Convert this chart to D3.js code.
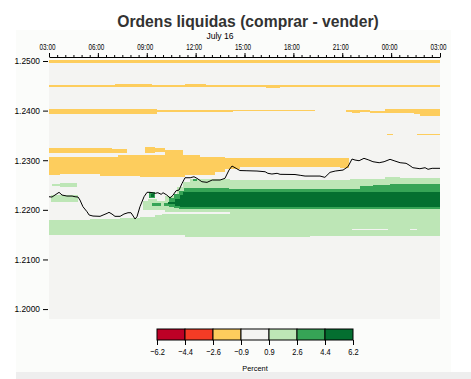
<!DOCTYPE html>
<html><head><meta charset="utf-8">
<script src="https://cdn.jsdelivr.net/npm/d3@7"></script>
<style>
html,body{margin:0;padding:0;background:#fff;}
svg{display:block;font-family:"Liberation Sans",Arial,Helvetica,sans-serif;}
</style></head><body>
<svg id="chart" width="471" height="379"></svg>
<script>
// ---------- texts & legend ----------
const chartTitle = "Ordens liquidas (comprar - vender)";
const dateLabel = "July 16";
const legendTitle = "Percent";
const legendBreaks = [-6.2, -4.4, -2.6, -0.9, 0.9, 2.6, 4.4, 6.2];
const levelColors = ["#bd0026", "#f43c25", "#fdcd5d", "#f4f4f2", "#bde6b6", "#36a456", "#046f30"];
const priceTicks = [1.20, 1.21, 1.22, 1.23, 1.24, 1.25];
const priceDomain = [1.1980, 1.2502];
const startTime = new Date(2021, 6, 16, 3, 0);
const endTime = new Date(2021, 6, 17, 3, 0);

// ---------- price line (hours after 03:00, price) ----------
const lineHours = [0,0.18,0.61,0.80,1.10,1.41,1.60,1.78,1.90,2.09,2.33,2.46,2.70,3.13,3.31,3.56,3.68,3.87,4.05,4.36,4.60,4.85,5.03,5.16,5.28,5.40,5.59,5.83,6.02,6.20,6.51,6.69,6.88,7.00,7.24,7.43,7.61,7.80,7.98,8.16,8.35,8.66,8.90,9.09,9.39,9.70,10.01,10.50,10.80,11.05,11.23,11.48,11.72,12.15,12.77,13.26,13.44,13.69,14.00,14.18,15.10,15.41,15.72,16.64,16.94,17.25,17.56,18.05,18.35,18.60,18.78,19.03,19.34,19.64,19.89,20.26,20.56,20.93,21.24,21.55,21.92,22.10,22.34,22.77,23.08,23.27,23.51,24.00];
const linePrices = [1.22264,1.22258,1.22353,1.22298,1.22278,1.22278,1.22264,1.22258,1.22198,1.22063,1.21962,1.21895,1.21875,1.21869,1.21895,1.21929,1.21950,1.21915,1.21869,1.21869,1.21915,1.21942,1.21942,1.21875,1.21815,1.21861,1.22063,1.22264,1.22353,1.22353,1.22333,1.22345,1.22313,1.22345,1.22298,1.22238,1.22298,1.22385,1.22399,1.22534,1.22647,1.22647,1.22667,1.22635,1.22567,1.22554,1.22601,1.22601,1.22635,1.22802,1.22883,1.22837,1.22792,1.22788,1.22782,1.22768,1.22736,1.22722,1.22736,1.22716,1.22712,1.22696,1.22681,1.22681,1.22655,1.22756,1.22782,1.22802,1.22869,1.23024,1.23004,1.22990,1.23038,1.23004,1.22970,1.22950,1.22970,1.23018,1.22984,1.22950,1.22938,1.22903,1.22849,1.22829,1.22849,1.22817,1.22837,1.22837];

// ---------- heat-map bands: [hour, low price, high price] (step after) ----------
const yellowTop = [[0,1.2496,1.2502],[24,1.2496,1.2502]];
const yellow2450 = [[0,1.24476,1.24516],[4.05,1.24476,1.24536],[6.32,1.24476,1.24516],[8.35,1.24476,1.24536],[9.64,1.24476,1.24516],[13.3,1.24456,1.24516],[14.2,1.24476,1.24516],[24,1.24476,1.24516]];
const yellow2400a = [[0,1.23932,1.24032],[6.63,1.23972,1.24012],[11.30,1.23992,1.24012],[16.33,1.23992,1.24012]];
const yellow2400b = [[18.23,1.23972,1.24012],[18.6,1.23952,1.24012],[19.1,1.23972,1.24012],[19.7,1.23952,1.23992],[20.6,1.23952,1.24042],[21.24,1.23952,1.24032],[22.4,1.23932,1.24032],[22.8,1.23891,1.24032],[24,1.23891,1.24032]];
const yellowFragA = [[20.75,1.23500,1.23530],[21.12,1.23500,1.23530]];
const yellowFragB = [[22.59,1.23500,1.23530],[24,1.23500,1.23530]];
const yellowMain = [[0,1.22702,1.23075],[0.68,1.22732,1.23065],[3.13,1.22681,1.23065],[4.24,1.22681,1.23105],[5.59,1.22655,1.23105],[8.35,1.22702,1.23105],[9.27,1.22702,1.23065],[10.19,1.22762,1.23065],[10.80,1.22833,1.23054],[11.72,1.22863,1.23044],[17.86,1.22853,1.23044],[18.42,1.22853,1.23044]];
const yellowStrip = [[0,1.23155,1.23240],[3.87,1.23155,1.23226],[4.79,1.23155,1.23226]];
const yellowBump = [[5.89,1.23145,1.23272],[6.51,1.23165,1.23246],[7.12,1.23105,1.23206],[8.23,1.23105,1.23206]];

const greenLight1 = [[0.2,1.22480,1.22520],[0.7,1.22460,1.22540],[1.72,1.22460,1.22540]];
const greenLight2 = [[0.15,1.22157,1.22298],[1.78,1.22157,1.22298]];
const greenLightLower = [[0,1.21492,1.21805],[2.52,1.21492,1.21815],[4.36,1.21492,1.21835],[5.59,1.21492,1.21865],[6.51,1.21492,1.21895],[6.94,1.21492,1.21909],[8.35,1.21458,1.21909],[11.11,1.21458,1.21909]];
const greenLightUpper = [[5.77,1.21996,1.22177],[6.05,1.21996,1.22218],[6.60,1.21996,1.22177],[7.12,1.21956,1.22278],[7.86,1.21956,1.22460],[8.23,1.21956,1.22561],[8.66,1.21956,1.22621],[11.11,1.21462,1.22601],[16.02,1.21478,1.22601],[18.48,1.21478,1.22621],[20.63,1.21478,1.22667],[21.55,1.21478,1.22641],[24,1.21478,1.22641]];
const greenMedA = [[6.32,1.22087,1.22137],[6.88,1.22087,1.22137]];
const greenMedB = [[7.06,1.22077,1.22137],[7.37,1.22056,1.22238],[7.67,1.22036,1.22319],[7.98,1.22016,1.22379],[8.29,1.22016,1.22440],[11.05,1.22016,1.22419],[19.09,1.22016,1.22473],[19.89,1.22016,1.22500],[20.93,1.22016,1.22520],[24,1.22016,1.22520]];
const greenDark = [[7.31,1.22127,1.22167],[7.73,1.22077,1.22218],[8.04,1.22056,1.22298],[8.23,1.22063,1.22359],[24,1.22063,1.22359]];
const greenDot1Med = [[6.17,1.22238,1.22359],[6.51,1.22238,1.22359]];
const greenDot1Dark = [[6.29,1.22268,1.22319],[6.42,1.22268,1.22319]];
const greenDot2Med = [[8.84,1.22581,1.22621],[9.09,1.22581,1.22621]];
const gapA = [[18.6,1.21597,1.21617],[20.81,1.21597,1.21617]];
const gapB = [[22.16,1.21597,1.21617],[22.59,1.21597,1.21617]];

const layers = [
  {band: greenLightLower, level: 4}, {band: greenLightUpper, level: 4},
  {band: greenLight1, level: 4}, {band: greenLight2, level: 4},
  {band: yellowTop, level: 2}, {band: yellow2450, level: 2},
  {band: yellow2400a, level: 2}, {band: yellow2400b, level: 2},
  {band: yellowFragA, level: 2}, {band: yellowFragB, level: 2},
  {band: yellowMain, level: 2}, {band: yellowStrip, level: 2}, {band: yellowBump, level: 2},
  {band: greenMedA, level: 5}, {band: greenMedB, level: 5},
  {band: greenDark, level: 6},
  {band: greenDot1Med, level: 5}, {band: greenDot1Dark, level: 6}, {band: greenDot2Med, level: 5},
  {band: gapA, level: 3}, {band: gapB, level: 3}
];

// ---------- drawing ----------
const svg = d3.select("#chart");
const toDate = h => d3.timeMinute.offset(startTime, Math.round(h * 60));

const x = d3.scaleTime().domain([startTime, endTime]).range([49, 440]);
const y = d3.scaleLinear().domain(priceDomain).range([319, 60]);

// squeeze a text selection horizontally (narrow-font look), keeps real text
function narrow(sel, factor) {
  sel.each(function () {
    const w = this.getComputedTextLength();
    if (w > 0) {
      this.setAttribute("textLength", (w * factor).toFixed(2));
      this.setAttribute("lengthAdjust", "spacingAndGlyphs");
    }
  });
}

// panel backgrounds
svg.append("rect").attr("x", 16).attr("y", 30).attr("width", 435).attr("height", 342).attr("fill", "#fbfcfa");
svg.append("rect").attr("x", 16).attr("y", 372).attr("width", 455).attr("height", 7).attr("fill", "#eeeeee");

// title
svg.append("text").attr("x", 248).attr("y", 26.5).attr("text-anchor", "middle")
  .attr("font-size", 15.7).attr("font-weight", "bold").attr("fill", "#333").text(chartTitle);

// plot background (neutral class)
svg.append("rect").attr("x", x.range()[0]).attr("y", y(priceDomain[1]))
  .attr("width", x.range()[1] - x.range()[0]).attr("height", y(priceDomain[0]) - y(priceDomain[1]))
  .attr("fill", levelColors[3]);

const area = d3.area()
  .x(d => x(toDate(d[0])))
  .y0(d => y(d[1]))
  .y1(d => y(d[2]))
  .curve(d3.curveStepAfter);

svg.append("g").selectAll("path").data(layers).join("path")
  .attr("d", d => area(d.band))
  .attr("fill", d => levelColors[d.level])
  .attr("shape-rendering", "crispEdges");

// price line
const lineData = lineHours.map((h, i) => [h, linePrices[i]]);
svg.append("path").datum(lineData)
  .attr("d", d3.line().x(d => x(toDate(d[0]))).y(d => y(d[1])))
  .attr("fill", "none").attr("stroke", "#000").attr("stroke-width", 1);

// top time axis
const gx = svg.append("g").attr("transform", "translate(0,57)")
  .call(d3.axisTop(x).ticks(d3.timeHour.every(3)).tickFormat(d3.timeFormat("%H:%M")).tickSize(4).tickSizeOuter(0).tickPadding(3.5));
gx.selectAll("text").attr("font-size", 9.3).attr("font-family", "Liberation Sans, Arial, sans-serif")
  .attr("dx", -2).attr("fill", "#000");
narrow(gx.selectAll("text"), 0.68);
gx.select(".domain").attr("stroke", "#000");
const gxm = svg.append("g").attr("transform", "translate(0,57)")
  .call(d3.axisTop(x).ticks(d3.timeMinute.every(30)).tickFormat("").tickSize(2).tickSizeOuter(0));
gxm.select(".domain").remove();

svg.append("text").attr("x", 220).attr("y", 39).attr("text-anchor", "middle")
  .attr("font-size", 8.6).attr("fill", "#000").text(dateLabel);

// left price axis
const gy = svg.append("g").attr("transform", "translate(48,0)")
  .call(d3.axisLeft(y).tickValues(priceTicks).tickFormat(d3.format(".4f")).tickSize(5).tickPadding(3));
gy.select(".domain").remove();
gy.selectAll("text").attr("font-size", 8.8).attr("font-family", "Liberation Sans, Arial, sans-serif").attr("fill", "#000");
narrow(gy.selectAll("text"), 0.95);

// legend
const lx = d3.scaleLinear().domain([0, levelColors.length]).range([157, 353]);
const lg = svg.append("g");
lg.selectAll("rect").data(levelColors).join("rect")
  .attr("x", (d, i) => lx(i)).attr("y", 329)
  .attr("width", (d, i) => lx(i + 1) - lx(i)).attr("height", 11)
  .attr("fill", d => d).attr("stroke", "#000").attr("stroke-width", 1);
const la = svg.append("g").attr("transform", "translate(0,340)")
  .call(d3.axisBottom(lx).tickValues(d3.range(legendBreaks.length))
    .tickFormat(i => d3.format(".1f")(legendBreaks[i])).tickSize(5).tickPadding(3));
la.select(".domain").remove();
la.selectAll("text").attr("font-size", 9.3).attr("font-family", "Liberation Sans, Arial, sans-serif").attr("fill", "#000");
narrow(la.selectAll("text"), 0.8);
svg.append("text").attr("x", 255).attr("y", 370.5).attr("text-anchor", "middle")
  .attr("font-size", 7.4).attr("fill", "#000").text(legendTitle);
</script>
</body></html>
